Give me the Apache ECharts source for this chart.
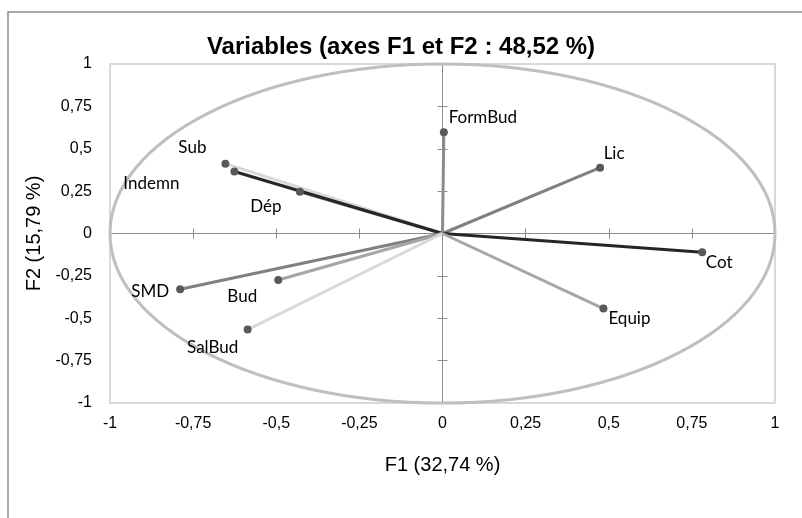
<!DOCTYPE html>
<html>
<head>
<meta charset="utf-8">
<script src="https://cdn.jsdelivr.net/npm/echarts@6/dist/echarts.min.js"></script>
<style>html,body{margin:0;padding:0;background:#fff}#c{width:802px;height:518px}</style>
</head>
<body>
<div id="c"></div>
<script>
// ---- data ----
const variables = ['Sub', 'Dép', 'Indemn', 'FormBud', 'Lic', 'Cot', 'Equip', 'SMD', 'Bud', 'SalBud'];
const f1Values  = [-0.653, -0.429, -0.626, 0.004, 0.474, 0.781, 0.484, -0.789, -0.494, -0.586];
const f2Values  = [0.412, 0.246, 0.366, 0.597, 0.388, -0.110, -0.443, -0.329, -0.274, -0.567];
const tickValues = [-1, -0.75, -0.5, -0.25, 0, 0.25, 0.5, 0.75, 1];
const titleText = 'Variables (axes F1 et F2 : 48,52 %)';
const xName = 'F1 (32,74 %)';
const yName = 'F2 (15,79 %)';

// ---- styles ----
const lineColors = ['#d9d9d9', '#8c8c8c', '#262626', '#8c8c8c', '#808080', '#262626', '#a6a6a6', '#808080', '#a6a6a6', '#d9d9d9'];
const labelOffsets = [[-33,-16],[-34,15],[-83,12],[39,-15],[14,-14],[17,10],[26,10],[-30,2],[-36,17],[-35,18]];

const fmt = v => String(v).replace('.', ',');
const axisGray = '#8c8c8c';
const arial = '"Liberation Sans", Arial, sans-serif';

const series = variables.map((name, i) => ({
  type: 'line',
  name: name,
  data: [[0, 0], [f1Values[i], f2Values[i]]],
  symbol: (val, p) => p.dataIndex === 0 ? 'none' : 'circle',
  symbolSize: 8,
  showSymbol: true,
  itemStyle: { color: '#595959' },
  lineStyle: { color: lineColors[i], width: 3 },
  z: 3,
  label: {
    show: true,
    position: 'inside',
    offset: labelOffsets[i],
    formatter: p => p.dataIndex === 0 ? '' : name,
    color: '#000',
    fontFamily: 'Lato, "Open Sans", sans-serif',
    fontSize: 17
  },
  emphasis: { disabled: true },
  animation: false
}));

series.unshift({
  type: 'custom',
  data: [[0, 0]],
  clip: false,
  z: 1,
  silent: true,
  renderItem: (params, api) => {
    const c = api.coord([0, 0]);
    const s = api.size([1, 1]);
    return {
      type: 'ellipse',
      shape: { cx: c[0], cy: c[1], rx: s[0], ry: s[1] },
      style: { fill: 'none', stroke: '#bfbfbf', lineWidth: 3 }
    };
  },
  animation: false
});

const baseVal = { type: 'value', min: tickValues[0], max: tickValues[tickValues.length - 1], interval: 0.25, splitLine: { show: false } };
const lineAxis = (inside) => Object.assign({}, baseVal, {
  axisLine: { show: true, onZero: true, onZeroAxisIndex: 0, lineStyle: { color: axisGray, width: 1 } },
  axisTick: { show: true, inside: inside, length: 5, lineStyle: { color: axisGray } },
  axisLabel: { show: false }
});

const chart = echarts.init(document.getElementById('c'), null, { renderer: 'canvas' });
chart.setOption({
  animation: false,
  backgroundColor: '#fff',
  title: {
    text: titleText, left: 'center', top: 30,
    textStyle: { fontFamily: arial, fontWeight: 'bold', fontSize: 24, color: '#000' }
  },
  graphic: [{
    type: 'rect', shape: { x: 8, y: 12, width: 1000, height: 1000 },
    style: { fill: 'none', stroke: '#8c8c8c', lineWidth: 1.5 }, silent: true, z: -1
  }],
  grid: { left: 110, right: 27, top: 64, bottom: 115, show: true, borderColor: '#d9d9d9', borderWidth: 2, backgroundColor: 'transparent', containLabel: false },
  xAxis: [
    Object.assign({}, baseVal, {
      position: 'bottom',
      axisLine: { show: false }, axisTick: { show: false },
      axisLabel: { formatter: fmt, color: '#000', fontFamily: arial, fontSize: 16, margin: 13 },
      name: xName, nameLocation: 'middle', nameGap: 52,
      nameTextStyle: { color: '#000', fontFamily: arial, fontSize: 20 }
    }),
    lineAxis(false),
    lineAxis(true)
  ],
  yAxis: [
    Object.assign({}, baseVal, {
      position: 'left',
      axisLine: { show: false }, axisTick: { show: false },
      axisLabel: { formatter: fmt, color: '#000', fontFamily: arial, fontSize: 16, margin: 18 },
      name: yName, nameLocation: 'middle', nameGap: 56,
      nameTextStyle: { color: '#000', fontFamily: arial, fontSize: 20 }
    }),
    lineAxis(false),
    lineAxis(true)
  ],
  series: series
});
</script>
</body>
</html>
